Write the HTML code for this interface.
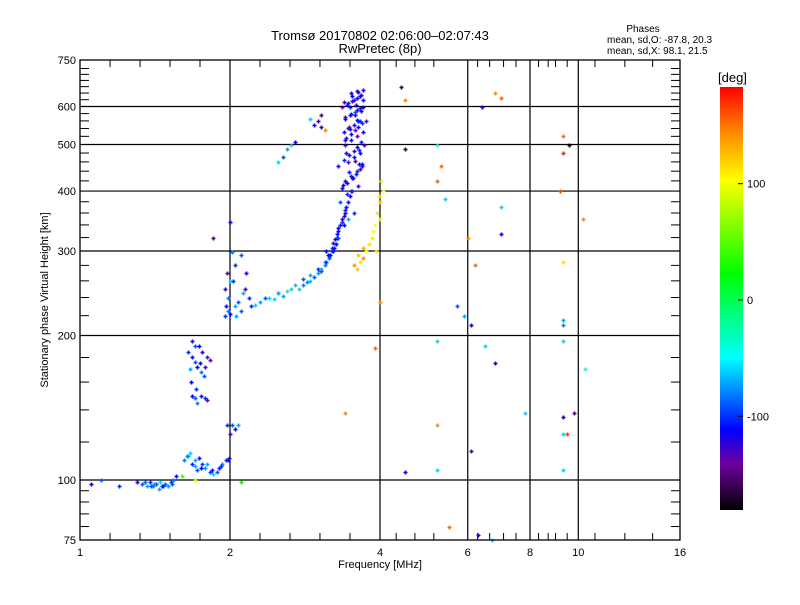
<!DOCTYPE html>
<html><head><meta charset="utf-8"><style>
body{margin:0;background:#fff;}
svg text{font-family:"Liberation Sans",sans-serif;fill:#000;}
</style></head><body>
<svg id="chart" width="800" height="600" xmlns="http://www.w3.org/2000/svg">
<defs><linearGradient id="cb" x1="0" y1="1" x2="0" y2="0">
<stop offset="0" stop-color="#000"/><stop offset="0.11" stop-color="#6e00a0"/><stop offset="0.19" stop-color="#0000ff"/>
<stop offset="0.36" stop-color="#00ffff"/><stop offset="0.56" stop-color="#00ff00"/><stop offset="0.78" stop-color="#ffff00"/>
<stop offset="0.89" stop-color="#ff8c00"/><stop offset="1" stop-color="#ff0000"/></linearGradient></defs>
<text x="380" y="40" font-size="13" text-anchor="middle">Tromsø 20170802 02:06:00–02:07:43</text>
<text x="380" y="53" font-size="13" text-anchor="middle">RwPretec (8p)</text>
<text x="643" y="32" font-size="10" text-anchor="middle">Phases</text>
<text x="607" y="43" font-size="10">mean, sd,O: -87.8, 20.3</text>
<text x="607" y="54" font-size="10">mean, sd,X:  98.1, 21.5</text>
<g id="grid"></g>
<g id="ticks"></g>
<g id="pts"></g>
<rect x="80" y="60" width="600" height="480" fill="none" stroke="#000" stroke-width="1.3"/>
<text x="380" y="568" font-size="11" text-anchor="middle">Frequency [MHz]</text>
<text transform="translate(48,300) rotate(-90)" font-size="11" text-anchor="middle">Stationary phase Virtual Height [km]</text>
<rect x="720" y="87" width="23" height="423" fill="url(#cb)"/>
<text x="718" y="82" font-size="13">[deg]</text>
<g id="cbt"></g>
</svg>
<script>
const xTickVals=[1,2,4,6,8,10,16];
const xMinor=[1.149,1.32,1.516,1.741,2.297,2.639,3.031,3.482,4.31,4.7,5.13,6.28,6.64,7.08,7.5,8.32,8.7,9.0,9.5,10.8,12.4,14.1];
const yTickVals=[75,100,200,300,400,500,600,750];
const yMinor=[80,85,90,95,120,140,160,180,220,240,260,280,320,340,360,380,420,440,460,480,520,540,560,580,620,640,660,680,700,720];
const cbVals=[100,0,-100];
const freqs=[1.33,1.36,1.38,1.40,1.42,1.44,1.46,1.48,1.50,1.52,1.54,1.56,1.30,1.45,1.39,1.05,1.1,1.2,
1.62,1.65,1.68,1.70,1.72,1.75,1.78,1.82,1.85,1.88,1.90,1.93,1.96,1.99,1.80,1.66,1.73,
2.02,2.05,2.08,2.0,1.97,1.68,1.70,1.75,1.78,1.80,1.72,
1.65,1.68,1.70,1.72,1.75,1.78,1.80,1.66,1.73,1.77,1.82,1.68,
1.95,1.98,2.0,2.05,2.1,1.95,2.0,2.05,1.97,2.1,2.02,2.15,2.12,2.2,2.25,
2.3,2.4,2.5,2.6,2.7,2.8,2.9,3.0,3.1,3.15,3.2,3.25,3.3,3.35,3.4,3.45,3.5,2.45,2.55,2.75,2.85,2.95,3.05,3.12,3.22,3.28,3.38,3.42,3.48,
3.4,3.5,3.6,3.45,3.55,3.65,3.4,3.5,3.6,3.7,3.45,3.55,3.65,3.4,3.5,3.6,3.7,3.45,3.55,3.65,3.5,3.6,3.7,3.35,3.3,3.42,3.52,3.62,3.68,3.72,3.38,3.48,3.58,3.62,3.33,3.55,3.45,3.7,3.75,
2.95,3.0,3.05,2.9,3.05,3.1,2.6,2.65,2.7,2.55,2.5,
3.6,3.65,3.7,3.75,3.8,3.85,3.9,3.95,4.0,4.05,4.02,3.98,3.7,3.62,3.55,3.88,3.92,4.0,
4.4,4.5,4.5,5.2,5.2,5.3,5.4,5.2,5.7,5.9,6.1,6.4,6.8,7.0,6.5,6.8,6.1,5.2,5.2,4.5,5.5,6.3,6.7,7.8,
9.3,9.3,9.6,9.2,9.3,9.3,9.3,9.3,9.3,9.5,9.3,9.3,9.8,10.2,10.3,7.0,7.0,6.2,6.0,
4.0,3.9,2.1,1.7,1.6,3.4,2.0,1.85,
3.36,3.44,3.52,3.58,3.64,3.68,3.38,3.46,3.54,3.6,3.66,3.42,3.5,3.56,3.62,3.68,3.4,3.48,3.56,3.64,3.44,3.52,3.6,3.66,3.37,3.47,3.57,3.63,3.41,3.49,3.59,3.67,3.39,3.51,3.61,3.43,3.53,3.63,3.47,3.57,
3.3,3.35,3.4,3.28,3.33,3.38,3.24,3.3,3.2,3.26,3.16,3.22,3.1,3.18,3.05,3.12,3.0,2.9,2.8,2.65,2.5,2.35,
1.35,1.41,1.47,1.53,1.64,1.7,1.76,1.84,1.92,1.98,1.67,1.71,1.76,1.7,1.74,1.98,2.03,2.08,1.96,2.06,2.14,2.18];
const heights=[98,97,99,97,98,96,97,98,97,99,100,102,99,99,97,98,100,97,
110,112,108,107,105,106,106,104,103,104,106,108,110,111,108,114,111,
130,128,130,125,130,150,148,150,148,147,145,
185,180,176,172,168,172,180,170,190,165,178,195,
220,225,222,230,225,250,260,280,270,295,298,270,245,230,232,
235,240,245,248,255,262,268,275,285,295,305,318,330,345,360,380,400,238,242,250,258,265,272,300,312,325,340,370,390,
420,430,440,460,470,480,500,510,520,530,540,550,560,570,580,590,600,610,620,630,640,645,620,600,450,480,400,410,450,500,530,600,605,560,380,360,350,650,560,
550,560,545,565,575,535,490,500,505,470,460,
275,285,290,300,310,320,340,360,380,400,420,390,305,295,280,330,300,350,
660,620,490,500,420,450,385,195,230,220,210,600,640,625,190,175,115,105,130,104,80,77,75,138,
520,480,500,400,285,215,210,195,125,125,105,135,138,350,170,370,325,280,320,
235,188,99,100,102,138,345,320,
405,415,425,435,445,455,465,475,485,495,505,515,525,535,545,555,565,575,585,595,605,615,625,635,412,438,462,488,512,538,562,588,612,632,642,395,425,455,545,575,
335,350,365,320,340,355,305,320,300,310,290,300,280,295,275,285,270,260,255,250,245,240,
99,98,97,98,112,110,108,105,107,110,160,155,185,190,175,240,260,235,230,220,250,240];
const phases=[-90,-70,-100,-80,-95,-70,-110,-90,-75,-100,-85,-110,-120,-60,-90,-110,-90,-100,
-80,-60,-100,-70,-90,-110,-75,-95,-60,-90,-105,-80,-100,-120,-70,-60,-110,
-90,-110,-70,-130,-100,-110,-90,-120,-100,-140,-80,
-100,-120,-90,-110,-80,-130,-100,-70,-110,-90,-140,-120,
-100,-80,-110,-70,-90,-120,-60,-100,-130,-90,-80,-110,-70,-100,-60,
-70,-60,-80,-55,-65,-90,-70,-100,-80,-110,-95,-110,-120,-100,-110,-115,-120,-60,-70,-60,-80,-90,-100,-110,-120,-110,-115,-105,-120,
-110,-120,-100,-130,-110,-115,-120,-105,-140,-110,-125,-115,-100,-130,-110,-120,-115,-105,-125,-110,-120,-115,-110,-140,-120,-110,-100,-125,-110,-130,-120,-105,-115,-110,-90,-100,-70,-115,-130,
-110,-130,-120,-60,-150,140,-70,-60,-110,-90,-60,
120,110,140,100,110,90,100,110,120,100,90,110,130,120,140,100,110,90,
-160,140,-170,-50,150,150,-60,-60,-90,-70,-110,-110,140,150,-60,-110,-130,-60,140,-110,150,-120,-60,-60,
150,170,-180,160,110,-70,-80,-60,-60,160,-60,-110,-150,140,-50,-60,-110,150,140,
140,150,20,80,40,140,-110,-150,
-115,-110,-120,-105,-130,-110,-100,-115,-125,-110,-105,-120,-110,-135,-115,-100,-120,-110,-90,-115,-105,-125,-110,-120,-115,-110,-130,-100,-120,-110,-105,-115,-125,-110,-120,-100,-115,-110,-140,-120,
-110,-120,-100,-115,-105,-125,-110,-95,-100,-110,-90,-105,-80,-110,-70,-95,-75,-65,-80,-60,-70,-90,
-85,-75,-100,-90,-80,-70,-95,-110,-100,-120,-110,-100,-120,-90,-110,-80,-100,-90,-110,-70,-120,-100];

const NS='http://www.w3.org/2000/svg';
const X0=80,X1=680,Y0=60,Y1=540;
function xS(f){return X0+Math.log2(f)*150;}
function yS(h){return Y1-Math.log10(h/75)*480;}
function cS(p){return 300-p*1.163;}
const stops=[[-180,0,0,0],[-140,110,0,160],[-110,0,0,255],[-50,0,255,255],[20,0,255,0],[100,255,255,0],[140,255,140,0],[180,255,0,0]];
function col(p){p=Math.max(-180,Math.min(180,p));for(let i=1;i<stops.length;i++){if(p<=stops[i][0]){const a=stops[i-1],b=stops[i],t=(p-a[0])/(b[0]-a[0]);return 'rgb('+[1,2,3].map(k=>Math.round(a[k]+(b[k]-a[k])*t)).join(',')+')';}}return 'red';}
function mk(tag,at,par){const e=document.createElementNS(NS,tag);for(const k in at)e.setAttribute(k,at[k]);par.appendChild(e);return e;}
const grid=document.getElementById('grid'),ticks=document.getElementById('ticks'),pts=document.getElementById('pts'),cbt=document.getElementById('cbt');
xTickVals.forEach(v=>{const x=xS(v);
 if(v>1&&v<16){const l=mk('line',{x1:x,x2:x,y1:Y0,y2:Y1,stroke:'#000','stroke-width':1.2},grid);
 
 }
 const t=mk('text',{x:x,y:556,'font-size':11,'text-anchor':'middle'},ticks);t.textContent=v;
 
 });
yTickVals.forEach(v=>{const y=yS(v);
 if(v>75&&v<750){const l=mk('line',{x1:X0,x2:X1,y1:y,y2:y,stroke:'#000','stroke-width':1.2},grid);
 
 }
 const t=mk('text',{x:76,y:y+4,'font-size':11,'text-anchor':'end'},ticks);t.textContent=v;
 
 });
xMinor.forEach(v=>{const x=xS(v);mk('line',{x1:x,x2:x,y1:Y1,y2:Y1-7,stroke:'#000'},ticks);mk('line',{x1:x,x2:x,y1:Y0,y2:Y0+7,stroke:'#000'},ticks);});
yMinor.forEach(v=>{const y=yS(v);mk('line',{x1:X0,x2:X0+9,y1:y,y2:y,stroke:'#000'},ticks);mk('line',{x1:X1,x2:X1-9,y1:y,y2:y,stroke:'#000'},ticks);});
freqs.forEach((f,i)=>{const x=Math.round(xS(f))+0.5,y=Math.round(yS(heights[i]))+0.5,c=col(phases[i]);
 const p=mk('path',{d:`M${x-2} ${y}h4M${x} ${y-2}v4`,stroke:c,'stroke-width':1.6},pts);
 
 });
cbVals.forEach(v=>{const y=cS(v);mk('line',{x1:743,x2:738,y1:y,y2:y,stroke:'#000'},cbt);
 const t=mk('text',{x:747,y:y+4,'font-size':11},cbt);t.textContent=v;
 
 });
</script>
</body></html>
